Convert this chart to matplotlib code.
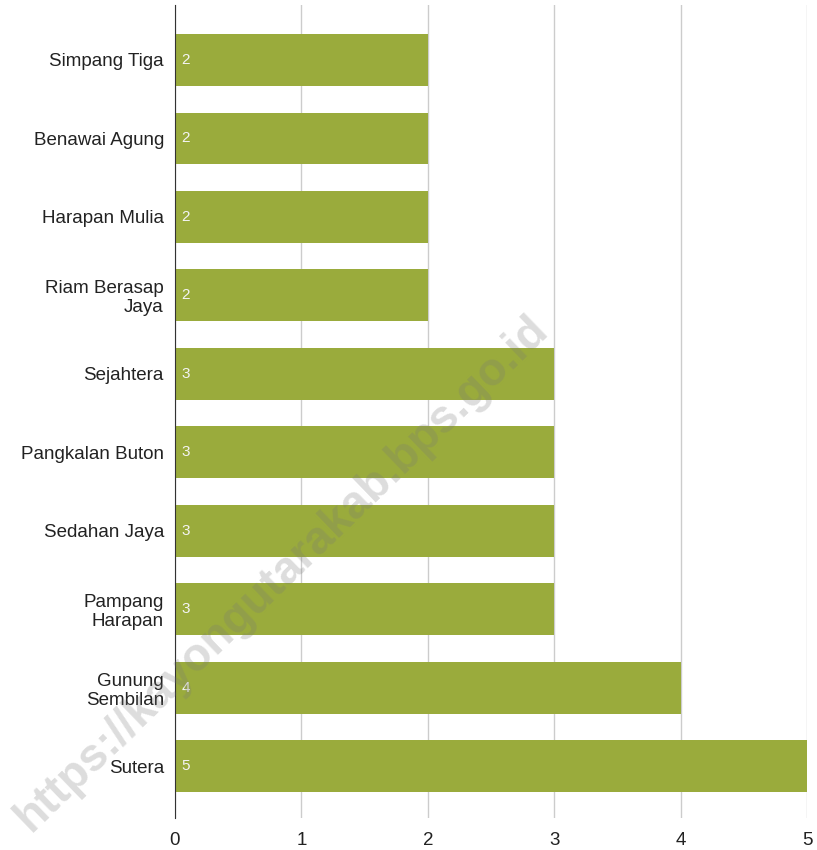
import matplotlib.pyplot as plt

plt.rcParams['font.family'] = ['Liberation Sans', 'DejaVu Sans']

villages = ['Simpang Tiga', 'Benawai Agung', 'Harapan Mulia', 'Riam Berasap\nJaya',
            'Sejahtera', 'Pangkalan Buton', 'Sedahan Jaya', 'Pampang\nHarapan',
            'Gunung\nSembilan', 'Sutera']
counts = [2, 2, 2, 2, 3, 3, 3, 3, 4, 5]
xticks = [0, 1, 2, 3, 4, 5]

bar_color = '#9aab3c'

fig = plt.figure(figsize=(8.17, 8.5), dpi=100)
ax = fig.add_axes([175 / 817, 32 / 850, 632 / 817, 813 / 850])

pos = list(range(len(villages)))
ax.barh(pos, counts, height=0.66, color=bar_color, zorder=2)
for p, c in zip(pos, counts):
    ax.text(0.05, p, str(c), color='#f4f4f4', fontsize=11, va='center', ha='left', zorder=3)

ax.set_xlim(0, 5)
ax.set_ylim(9.66, -0.70)
ax.set_yticks(pos)
ax.set_yticklabels(villages, fontsize=13.5, color='#222222', linespacing=1.15)
ax.set_xticks(xticks)
ax.set_xticklabels([str(t) for t in xticks], fontsize=13.5, color='#222222')
ax.tick_params(length=0, pad=10)
ax.tick_params(axis='y', pad=8)
ax.grid(axis='x', color='#cccccc', linewidth=1, zorder=0)
for s in ['top', 'right', 'bottom']:
    ax.spines[s].set_visible(False)
ax.spines['left'].set_color('#333333')
ax.spines['left'].set_zorder(4)

# watermark
fig.text(0.345, 0.325, 'https://kayongutarakab.bps.go.id', fontsize=33, color='#777777',
         alpha=0.25, rotation=44, ha='center', va='center', fontweight='bold', zorder=10)

fig.savefig('out.png', dpi=100)
